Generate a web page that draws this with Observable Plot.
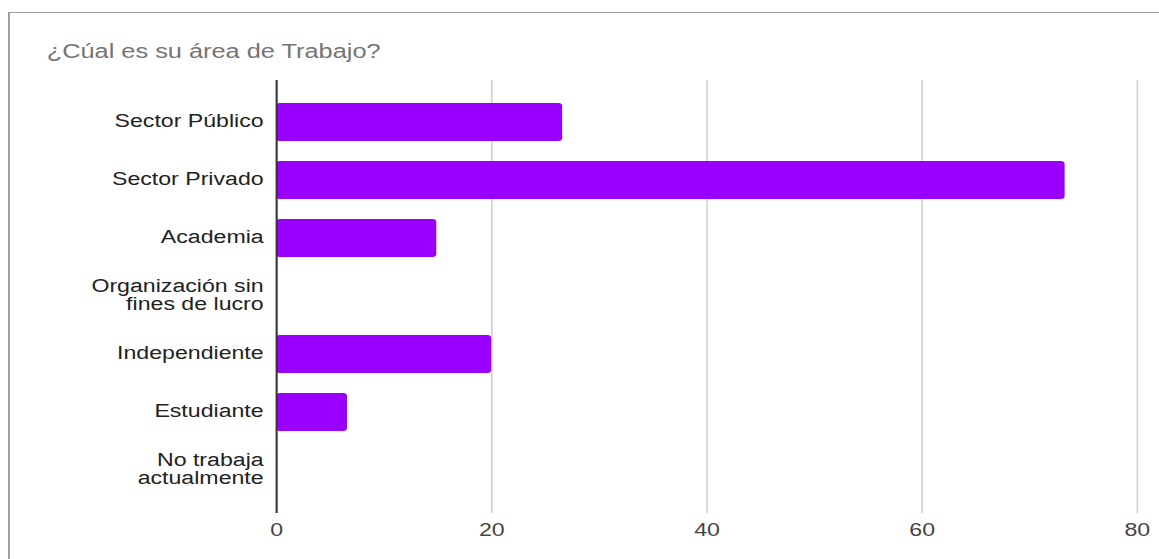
<!DOCTYPE html>
<html>
<head>
<meta charset="utf-8">
<script src="https://cdn.jsdelivr.net/npm/d3@7"></script>
<script src="https://cdn.jsdelivr.net/npm/@observablehq/plot@0.6"></script>
<style>
  html, body { margin: 0; padding: 0; background: #fff; overflow: hidden; width: 1159px; height: 559px; }
  #frame { position: absolute; left: 8px; top: 12px; width: 1300px; height: 700px;
           border-top: 1.5px solid #9e9e9e; border-left: 2px solid #a0a0a0; box-sizing: border-box; }
  #chart { position: absolute; left: 0; top: 0; width: 891.5px; transform: scaleX(1.3); transform-origin: 0 0; }
  #title { height: 70px; box-sizing: border-box; padding-top: 42px; padding-left: 35.9px;
           font-family: "Liberation Sans", Arial, sans-serif; font-size: 19.5px; line-height: 19.5px; color: #757575; white-space: nowrap; }
  svg { display: block; }
</style>
</head>
<body>
<div id="frame"></div>
<div id="chart">
  <div id="title">¿Cúal es su área de Trabajo?</div>
</div>
<script>
const categories = ["Sector Público", "Sector Privado", "Academia", "Organización sin fines de lucro", "Independiente", "Estudiante", "No trabaja actualmente"];
const categoryLabels = ["Sector Público", "Sector Privado", "Academia", "Organización sin\nfines de lucro", "Independiente", "Estudiante", "No trabaja\nactualmente"];
const values = [26.6, 73.3, 14.9, 0, 20, 6.6, 0];
const xTicks = [0, 20, 40, 60, 80];

const data = categories.map((c, i) => ({area: c, value: values[i]}));

const chart = Plot.plot({
  width: 891.5,
  height: 489,
  marginTop: 10,
  marginBottom: 46,
  marginLeft: 212.3,
  marginRight: 17.1,
  style: {fontFamily: "'Liberation Sans', Arial, sans-serif", fontSize: "17.5px", background: "transparent", overflow: "visible"},
  x: {domain: [0, 80]},
  y: {domain: categories, paddingInner: 0.343, paddingOuter: 0.385},
  marks: [
    Plot.gridX(xTicks.slice(1), {stroke: "#cccccc", strokeOpacity: 1, strokeWidth: 1.1}),
    Plot.barX(data, {x: "value", y: "area", fill: "#9900ff", rx: 3}),
    Plot.ruleX([0], {stroke: "#333", strokeWidth: 1.6}),
    Plot.axisX({ticks: xTicks, tickSize: 0, tickPadding: 10, fill: "#444", fontSize: 17.8, label: null}),
    Plot.axisY({tickSize: 0, tickPadding: 10, fill: "#222", fontSize: 17.8, dy: -1, label: null,
                tickFormat: d => categoryLabels[categories.indexOf(d)]})
  ]
});
document.getElementById("chart").appendChild(chart);
</script>
</body>
</html>
